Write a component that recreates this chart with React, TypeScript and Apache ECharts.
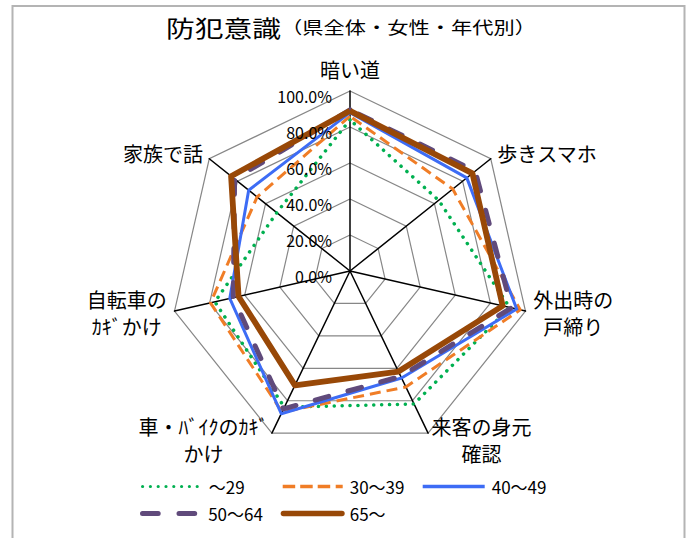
import React, { useEffect, useRef } from 'react';
import * as echarts from 'echarts';

const FONT = '"Noto Sans CJK JP", "Noto Sans", sans-serif';

// Survey items, clockwise from the top
const indicatorNames = [
  '暗い道',
  '歩きスマホ',
  '外出時の\n戸締り',
  '来客の身元\n確認',
  '車・ﾊﾞｲｸのｶｷﾞ\nかけ',
  '自転車の\nｶｷﾞかけ',
  '家族で話',
];

// Age groups
const ageGroups = ['～29', '30～39', '40～49', '50～64', '65～'];

// Share of respondents (%) per item, by age group (same order as indicatorNames)
const under29 = [84, 63, 91, 82, 84, 77, 52];
const age30to39 = [86, 73, 97, 71.5, 87, 79.5, 66];
const age40to49 = [88, 83, 95, 66, 88, 68.5, 72];
const age50to64 = [89.5, 89, 92, 65, 85, 66.5, 82];
const age65plus = [89, 87, 87, 62, 70.5, 63.5, 84.5];

const seriesValues = [under29, age30to39, age40to49, age50to64, age65plus];

const axisMin = 0;
const axisMax = 100;
const axisSplits = 5;

const colors = ['#00B050', '#F07D26', '#3D6CF5', '#604A7B', '#984807'];

const lineStyles: any[] = [
  { width: 3.5, type: [0.1, 7.8], cap: 'round' },
  { width: 3, type: [11, 6] },
  { width: 3, type: 'solid' },
  { width: 5, type: [14, 20], cap: 'round' },
  { width: 5.8, type: 'solid', join: 'round' },
];

// ECharts lays radar indicators out counter-clockwise; keep the first item on
// top and walk the rest backwards so the items run clockwise.
const clockwise = <T,>(arr: T[]): T[] => [arr[0], ...arr.slice(1).reverse()];

// Legend swatches drawn as small paths that imitate each line pattern
const dotPath = Array.from({ length: 8 }, (_, k) => {
  const x = k * 7.8;
  return `M${x},1.6a1.6,1.6 0 1,0 3.2,0a1.6,1.6 0 1,0 -3.2,0z`;
}).join(' ');
const legendIcons = [
  'path://' + dotPath,
  'path://M0,0h12.5v3.5h-12.5z M17.5,0h12.5v3.5h-12.5z M35,0h12.5v3.5h-12.5z M53,0h7v3.5h-7z',
  'path://M0,0h62v3.5h-62z',
  'path://M2.5,0h15.7a2.5,2.5 0 0,1 0,5h-15.7a2.5,2.5 0 0,1 0,-5z M39,0h15.7a2.5,2.5 0 0,1 0,5h-15.7a2.5,2.5 0 0,1 0,-5z',
  'path://M2.75,0h58.5a2.75,2.75 0 0,1 0,5.5h-58.5a2.75,2.75 0 0,1 0,-5.5z',
];
const legendIconSize = [
  [57.8, 3.2],
  [60, 3.5],
  [62, 3.5],
  [57.2, 5],
  [64, 5.5],
];
const legendPos = [
  [141, 478, 5],
  [282.7, 478, 2],
  [422.7, 478, 2],
  [140, 505, 6],
  [280.7, 505, 0],
];

const indicators = clockwise(indicatorNames).map((name) => ({ name, min: axisMin, max: axisMax }));

function buildOption(): any {
  const radarBase = {
    center: [350, 271],
    radius: 180,
    startAngle: 90,
    shape: 'polygon',
    splitNumber: axisSplits,
  };

  return {
    animation: false,
    backgroundColor: '#ffffff',
    graphic: [
      {
        type: 'rect',
        silent: true,
        z: -10,
        shape: { x: 12.5, y: 6, width: 672, height: 600 },
        style: { fill: 'none', stroke: '#b4b4b4', lineWidth: 2 },
      },
      {
        type: 'text',
        silent: true,
        x: 351,
        y: 27,
        scaleX: 1.25,
        style: {
          text: '{a|防犯意識}{b|（県全体・女性・年代別）}',
          align: 'center',
          verticalAlign: 'middle',
          fill: '#000',
          rich: {
            a: { fontSize: 23, fontFamily: FONT, fill: '#000' },
            b: { fontSize: 17, fontFamily: FONT, fill: '#000' },
          },
        },
      },
    ],
    legend: ageGroups.map((name, i) => ({
      left: legendPos[i][0],
      top: legendPos[i][1],
      padding: 0,
      selectedMode: false,
      itemWidth: legendIconSize[i][0],
      itemHeight: legendIconSize[i][1],
      itemStyle: { borderWidth: 0 },
      textStyle: {
        fontSize: 17,
        fontFamily: FONT,
        color: '#000',
        padding: [0, 0, 0, legendPos[i][2]],
      },
      data: [{ name, icon: legendIcons[i] }],
    })),
    radar: [
      {
        ...radarBase,
        z: 0,
        indicator: indicators,
        nameGap: 8,
        axisName: {
          color: '#000',
          fontSize: 20,
          fontFamily: FONT,
          lineHeight: 27,
          formatter: (n: string) =>
            n
              .split('\n')
              .map((l) => `{c|${l}}`)
              .join('\n'),
          rich: {
            c: { align: 'center', fontSize: 20, fontFamily: FONT, lineHeight: 27, color: '#000' },
          },
        },
        axisLine: { lineStyle: { color: '#000', width: 1.5 } },
        splitLine: { lineStyle: { color: '#878787', width: 1.2 } },
        splitArea: { show: false },
        axisTick: { show: false },
        axisLabel: { show: false },
      },
      {
        // Scale labels on the top axis, kept above the series lines
        ...radarBase,
        z: 10,
        indicator: indicators.map((ind, i) =>
          i === 0 ? { ...ind, axisLabel: { show: true } } : { ...ind }
        ),
        axisName: { show: false },
        axisLine: { show: false },
        splitLine: { show: false },
        splitArea: { show: false },
        axisTick: { show: false },
        axisLabel: {
          show: false,
          fontSize: 16,
          fontFamily: FONT,
          color: '#000',
          margin: 18,
          verticalAlign: 'top',
          lineHeight: 10,
          formatter: (v: number) => v.toFixed(1) + '%',
        },
      },
    ],
    series: ageGroups.map((name, i) => ({
      type: 'radar',
      name,
      radarIndex: 0,
      symbol: 'none',
      silent: true,
      z: 2,
      itemStyle: { color: colors[i] },
      lineStyle: { color: colors[i], ...lineStyles[i] },
      emphasis: { disabled: true },
      data: [{ name, value: clockwise(seriesValues[i]) }],
    })),
  };
}

export default function App() {
  const ref = useRef<HTMLDivElement>(null);
  useEffect(() => {
    if (!ref.current) return;
    const chart = echarts.init(ref.current, null, { renderer: 'svg' });
    chart.setOption(buildOption());
    return () => chart.dispose();
  }, []);
  return (
    <div
      ref={ref}
      style={{ position: 'fixed', left: 0, top: 0, width: 692, height: 538, background: '#fff' }}
    />
  );
}
